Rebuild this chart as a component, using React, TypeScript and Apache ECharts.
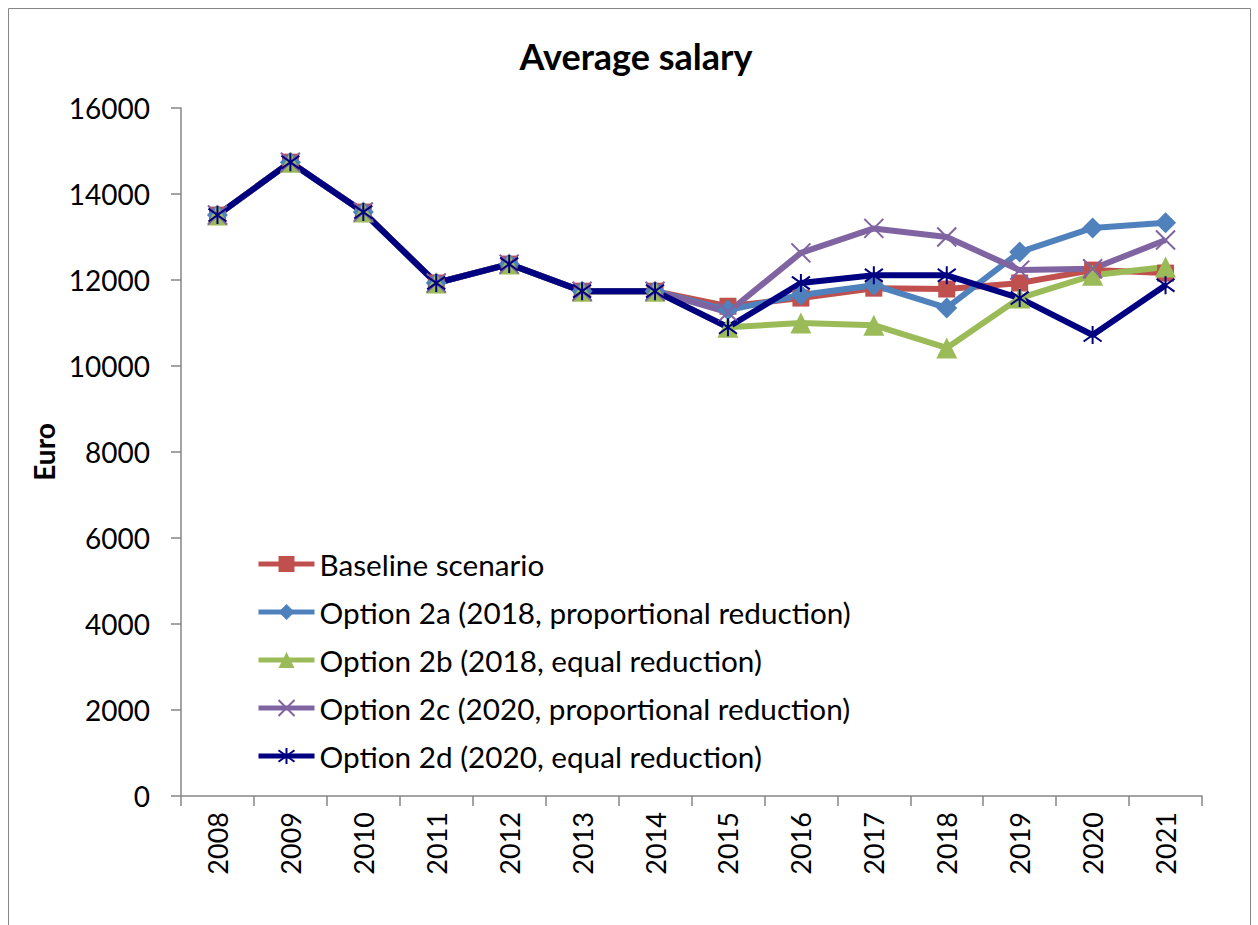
import React, { useEffect, useRef } from "react";
import * as echarts from "echarts";

const years = ["2008", "2009", "2010", "2011", "2012", "2013", "2014", "2015", "2016", "2017", "2018", "2019", "2020", "2021"];
const baseline = [13510, 14740, 13580, 11930, 12370, 11740, 11740, 11390, 11580, 11810, 11790, 11930, 12230, 12160];
const option2a = [13510, 14740, 13580, 11930, 12370, 11740, 11740, 11300, 11650, 11880, 11350, 12650, 13210, 13330];
const option2b = [13510, 14740, 13580, 11930, 12370, 11740, 11740, 10900, 11000, 10950, 10420, 11580, 12110, 12300];
const option2c = [13510, 14740, 13580, 11930, 12370, 11740, 11740, 11250, 12630, 13200, 13000, 12230, 12260, 12930];
const option2d = [13510, 14740, 13580, 11930, 12370, 11740, 11740, 10900, 11930, 12110, 12110, 11580, 10720, 11880];
const seriesNames = [
  "Baseline scenario",
  "Option 2a (2018, proportional reduction)",
  "Option 2b (2018, equal reduction)",
  "Option 2c (2020, proportional reduction)",
  "Option 2d (2020, equal reduction)",
];

const FONT = "Lato, 'Open Sans', sans-serif";

export default function App() {
  const ref = useRef<HTMLDivElement>(null);
  useEffect(() => {
    if (!ref.current) return;
    const chart = echarts.init(ref.current, undefined, { renderer: "svg" });
    const mk = (name: string, data: number[], color: string, symbol: string, size: number, stroke: boolean) => ({
      name,
      type: "line",
      data,
      symbol,
      symbolSize: size,
      showSymbol: true,
      lineStyle: { color, width: 6 },
      itemStyle: stroke
        ? { color, borderColor: color, borderWidth: 2 }
        : { color, borderWidth: 0 },
      emphasis: { disabled: true },
    });
    chart.setOption({
      animation: false,
      backgroundColor: "#ffffff",
      textStyle: { fontFamily: FONT },
      title: {
        text: "Average salary",
        left: 631,
        top: 33,
        textAlign: "center",
        textStyle: { fontFamily: FONT, fontSize: 36, fontWeight: "bold", color: "#000" },
      },
      graphic: [
        {
          type: "rect",
          shape: { x: 8.5, y: 8.5, width: 1242, height: 940 },
          style: { fill: "none", stroke: "#868686", lineWidth: 1 },
          silent: true,
        },
      ],
      grid: { left: 181, right: 56, top: 108, bottom: 129, containLabel: false },
      legend: {
        orient: "vertical",
        left: 251,
        top: 542,
        itemWidth: 56,
        itemHeight: 20,
        itemGap: 14,
        lineStyle: { width: 5 },
        textStyle: { fontFamily: FONT, fontSize: 29.7, color: "#000", lineHeight: 34 },
        data: seriesNames,
      },
      xAxis: {
        type: "category",
        data: years,
        boundaryGap: true,
        axisLine: { lineStyle: { color: "#868686", width: 1.5 } },
        axisTick: { show: true, length: 10, lineStyle: { color: "#868686", width: 1.5 } },
        axisLabel: { rotate: 90, fontSize: 27, color: "#000", margin: 16, fontFamily: FONT },
        splitLine: { show: false },
      },
      yAxis: {
        type: "value",
        min: 0,
        max: 16000,
        interval: 2000,
        name: "Euro",
        nameLocation: "middle",
        nameGap: 117,
        nameRotate: 90,
        nameTextStyle: { fontFamily: FONT, fontSize: 28, fontWeight: "bold", color: "#000" },
        axisLine: { show: true, lineStyle: { color: "#868686", width: 1.5 } },
        axisTick: { show: true, length: 10, lineStyle: { color: "#868686", width: 1.5 } },
        axisLabel: { fontSize: 28, color: "#000", margin: 31, fontFamily: FONT, formatter: (v: number) => String(v) },
        splitLine: { show: false },
      },
      series: [
        mk(seriesNames[0], baseline, "#C0504D", "rect", 17, false),
        mk(seriesNames[1], option2a, "#4F81BD", "diamond", 21, false),
        mk(seriesNames[2], option2b, "#9BBB59", "triangle", 21, false),
        mk(seriesNames[3], option2c, "#8064A2", "path://M0,0L10,10M0,10L10,0", 19, true),
        mk(seriesNames[4], option2d, "#000080", "path://M0,0L10,10M0,10L10,0M5,-2L5,12", 18, true),
      ],
    });
    return () => chart.dispose();
  }, []);
  return (
    <div
      ref={ref}
      style={{ position: "fixed", left: 0, top: 0, width: 1258, height: 925 }}
    />
  );
}
